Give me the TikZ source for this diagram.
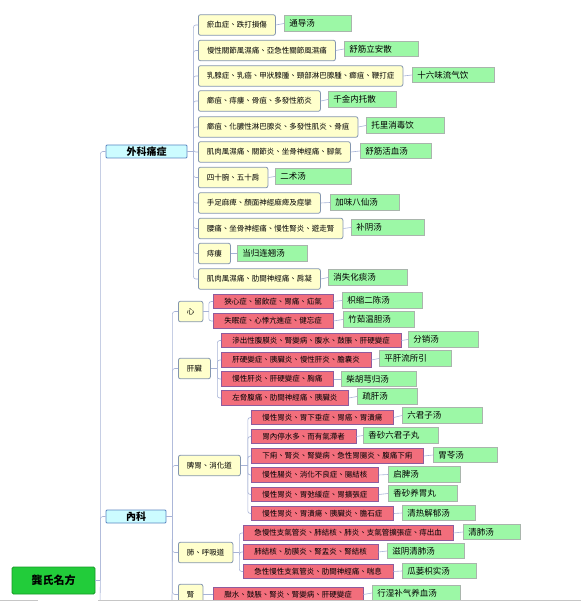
\documentclass[tikz,border=0pt]{standalone}
\usepackage{fontspec}
\setmainfont{Noto Sans CJK TC}
\newfontfamily\remfont{Noto Sans CJK SC}
\usetikzlibrary{calc}
\definecolor{rootfill}{HTML}{22CC3A}
\definecolor{rootedge}{HTML}{169926}
\definecolor{deptfill}{HTML}{CCFCFF}
\definecolor{deptedge}{HTML}{5A86C2}
\definecolor{illfill}{HTML}{FFFFCC}
\definecolor{illedge}{HTML}{8496B0}
\definecolor{sickfill}{HTML}{F26E7C}
\definecolor{sickedge}{HTML}{8E5C9E}
\definecolor{remfill}{HTML}{9CF8A6}
\definecolor{remedge}{HTML}{A9B5AC}
\definecolor{linkblue}{HTML}{A7B3D6}
\newcommand\illfont{\fontsize{7.5pt}{9pt}\selectfont}
\newcommand\remsize{\remfont\fontsize{8.5pt}{10pt}\selectfont}

\begin{document}
\begin{tikzpicture}[x=1pt, y=-1pt,
    link/.style={draw=linkblue, line width=0.6pt, rounded corners=2.5pt},
    root/.style={fill=rootfill, draw=rootedge, line width=0.8pt, rounded corners=1.5pt,
      minimum width=83pt, minimum height=27pt, font=\fontsize{11pt}{13pt}\selectfont\bfseries},
    dept/.style={fill=deptfill, draw=deptedge, line width=0.8pt, rounded corners=1pt,
      minimum height=13pt, inner ysep=0pt, font=\fontsize{10pt}{12pt}\selectfont\bfseries},
    ill/.style={anchor=west, fill=illfill, draw=illedge, line width=0.8pt, rounded corners=2pt,
      inner xsep=8.5pt, inner ysep=0pt, minimum height=20.5pt, font=\illfont},
    sick/.style={anchor=west, fill=sickfill, draw=sickedge, line width=0.8pt,
      inner xsep=11pt, inner ysep=0pt, minimum height=14.5pt, font=\illfont},
    rem/.style={anchor=west, fill=remfill, draw=remedge, line width=0.6pt,
      inner xsep=5pt, inner ysep=0pt, minimum height=15.5pt, align=left, font=\remsize}]
  \useasboundingbox (0,0) rectangle (581,601);
  \clip (0,0) rectangle (581,601);

  % root and departments
  \node[root] (gs) at (53.5,580.5) {龔氏名方};
  \node[dept, minimum width=81pt] (wk) at (146.5,151.5) {外科痛症};
  \node[dept, minimum width=60pt] (nk) at (136,516.5) {內科};
  \coordinate (gsj) at ($(gs.east)+(5,0)$);
  \coordinate (gsend) at (100,605);
  \draw[link] (gs.east) -- (gsj);
  \draw[link] (gsj) |- (wk.west);
  \draw[link] (gsj) |- (nk.west);
  \draw[link] (gsj) -- (gsend);

  % surgery
  \node[ill] (w1) at (198,25) {瘀血症、跌打損傷};
  \node[ill] (w2) at (198,50.5) {慢性關節風濕痛、亞急性關節風濕痛};
  \node[ill] (w3) at (198,76) {乳腺症、乳癌、甲狀腺腫、頸部淋巴腺腫、癤疽、鞭打症};
  \node[ill] (w4) at (198,101) {癤疽、痔瘻、骨疽、多發性筋炎};
  \node[ill] (w5) at (198,127) {癤疽、化膿性淋巴腺炎、多發性肌炎、骨疽};
  \node[ill] (w6) at (198,152) {肌肉風濕痛、關節炎、坐骨神經痛、腳氣};
  \node[ill] (w7) at (198,177.5) {四十腕、五十肩};
  \node[ill] (w8) at (198,203) {手足麻痺、顏面神經麻痺及痙攣};
  \node[ill] (w9) at (198,228.5) {腰痛、坐骨神經痛、慢性腎炎、遊走腎};
  \node[ill] (w10) at (198,253.5) {痔瘻};
  \node[ill] (w11) at (198,279) {肌肉風濕痛、肋間神經痛、肩凝};
  \node[rem, text width=57pt] (w1-r) at (284,23.5) {通导汤};
  \node[rem, text width=64pt] (w2-r) at (344,49) {舒筋立安散};
  \node[rem, text width=72pt] (w3-r) at (412,75) {十六味流气饮};
  \node[rem, text width=58pt] (w4-r) at (328,99.5) {千金内托散};
  \node[rem, text width=68pt] (w5-r) at (366,125.5) {托里消毒饮};
  \node[rem, text width=61pt] (w6-r) at (360,151) {舒筋活血汤};
  \node[rem, text width=66pt] (w7-r) at (275,176.5) {二术汤};
  \node[rem, text width=59pt] (w8-r) at (330,202.5) {加味八仙汤};
  \node[rem, text width=63pt] (w9-r) at (351,227.5) {补阴汤};
  \node[rem, text width=60pt] (w10-r) at (237,253.5) {当归连翘汤};
  \node[rem, text width=69pt] (w11-r) at (328,277.5) {消失化痰汤};
  \coordinate (wkj) at ($(wk.east)+(6,0)$);
  \draw[link] (wk.east) -- (wkj);
  \foreach \i in {1,...,11} {
    \draw[link] (wkj) |- (w\i.west);
    \draw[link] (w\i.east) -- (w\i-r.west);
  }

  % internal medicine: organs
  \node[ill] (xin) at (178,311.5) {心};
  \node[ill] (gan) at (178,368.5) {肝臟};
  \node[ill] (piw) at (178,465.5) {脾胃、消化道};
  \node[ill] (fei) at (178,552.5) {肺、呼吸道};
  \node[ill] (shen) at (178,594.5) {腎};
  \coordinate (nkj) at ($(nk.east)+(6,0)$);
  \coordinate (nkend) at (172,605);
  \draw[link] (nk.east) -- (nkj);
  \foreach \o in {xin,gan,piw,fei,shen}
    \draw[link] (nkj) |- (\o.west);
  \draw[link] (nkj) -- (nkend);

  % heart
  \node[sick] (h1) at (213,301.5) {狹心症、留飲症、胃痛、疝氣};
  \node[sick] (h2) at (213,321) {失眠症、心悸亢進症、健忘症};
  \node[rem, text width=70pt] (h1-r) at (342,300.5) {枳缩二陈汤};
  \node[rem, text width=61pt] (h2-r) at (343,319.5) {竹茹温胆汤};
  \coordinate (xinj) at ($(xin.east)+(5.5,0)$);
  \draw[link] (xin.east) -- (xinj);
  \foreach \i in {1,2} {
    \draw[link] (xinj) |- (h\i.west);
    \draw[link] (h\i.east) -- (h\i-r.west);
  }

  % liver
  \node[sick] (g1) at (221,340.5) {滲出性腹膜炎、腎變病、腹水、鼓脹、肝硬變症};
  \node[sick] (g2) at (221,360) {肝硬變症、胰臟炎、慢性肝炎、膽囊炎};
  \node[sick] (g3) at (221,379) {慢性肝炎、肝硬變症、胸痛};
  \node[sick] (g4) at (221,398) {左脅腹痛、肋間神經痛、胰臟炎};
  \node[rem, text width=60pt] (g1-r) at (408,339.5) {分销汤};
  \node[rem, text width=62pt] (g2-r) at (379,358.5) {平肝流所引};
  \node[rem, text width=65pt] (g3-r) at (341,379) {柴胡芎归汤};
  \node[rem, text width=50pt] (g4-r) at (357,396.5) {疏肝汤};
  \coordinate (ganj) at ($(gan.east)+(6.5,0)$);
  \draw[link] (gan.east) -- (ganj);
  \foreach \i in {1,...,4} {
    \draw[link] (ganj) |- (g\i.west);
    \draw[link] (g\i.east) -- (g\i-r.west);
  }

  % stomach and digestive tract
  \node[sick] (p1) at (251,417.5) {慢性胃炎、胃下垂症、胃癌、胃潰瘍};
  \node[sick] (p2) at (251,436.5) {胃內停水多、而有氣滯者};
  \node[sick] (p3) at (251,456) {下痢、腎炎、腎變病、急性胃腸炎、腹痛下痢};
  \node[sick] (p4) at (251,475) {慢性腸炎、消化不良症、腸結核};
  \node[sick] (p5) at (251,494.5) {慢性胃炎、胃弛緩症、胃擴張症};
  \node[sick] (p6) at (251,513.5) {慢性胃炎、胃潰瘍、胰臟炎、膽石症};
  \node[rem, text width=70pt] (p1-r) at (402,415.5) {六君子汤};
  \node[rem, text width=65pt] (p2-r) at (363,435.5) {香砂六君子丸};
  \node[rem, text width=54pt] (p3-r) at (433,455) {胃苓汤};
  \node[rem, text width=62pt] (p4-r) at (388,474.5) {启脾汤};
  \node[rem, text width=59pt] (p5-r) at (388,493.5) {香砂养胃丸};
  \node[rem, text width=63pt] (p6-r) at (402,513) {清热解郁汤};
  \coordinate (piwj) at ($(piw.east)+(7,0)$);
  \draw[link] (piw.east) -- (piwj);
  \foreach \i in {1,...,6} {
    \draw[link] (piwj) |- (p\i.west);
    \draw[link] (p\i.east) -- (p\i-r.west);
  }

  % lung and respiratory tract
  \node[sick] (f1) at (243,533) {急慢性支氣管炎、肺結核、肺炎、支氣管擴張症、痔出血};
  \node[sick] (f2) at (243,552) {肺結核、肋膜炎、腎盂炎、腎結核};
  \node[sick] (f3) at (243,571.5) {急性慢性支氣管炎、肋間神經痛、喘息};
  \node[rem, text width=47pt] (f1-r) at (463,532) {清肺汤};
  \node[rem, text width=67pt] (f2-r) at (387,551) {滋阴清肺汤};
  \node[rem, text width=64pt] (f3-r) at (402,571) {瓜蒌枳实汤};
  \coordinate (feij) at ($(fei.east)+(6,0)$);
  \draw[link] (fei.east) -- (feij);
  \foreach \i in {1,...,3} {
    \draw[link] (feij) |- (f\i.west);
    \draw[link] (f\i.east) -- (f\i-r.west);
  }

  % kidney
  \node[sick] (s1) at (213,594.5) {臌水、鼓脹、腎炎、腎變病、肝硬變症};
  \node[rem, text width=78pt] (s1-r) at (372,593) {行湿补气养血汤};
  \draw[link] (shen.east) -- (s1.west);
  \draw[link] (s1.east) -- (s1-r.west);

  % frame edge at the bottom
  \draw[gray!45, line width=1pt] (0,600) -- (38,600) (98,600) -- (581,600);
\end{tikzpicture}
\end{document}
